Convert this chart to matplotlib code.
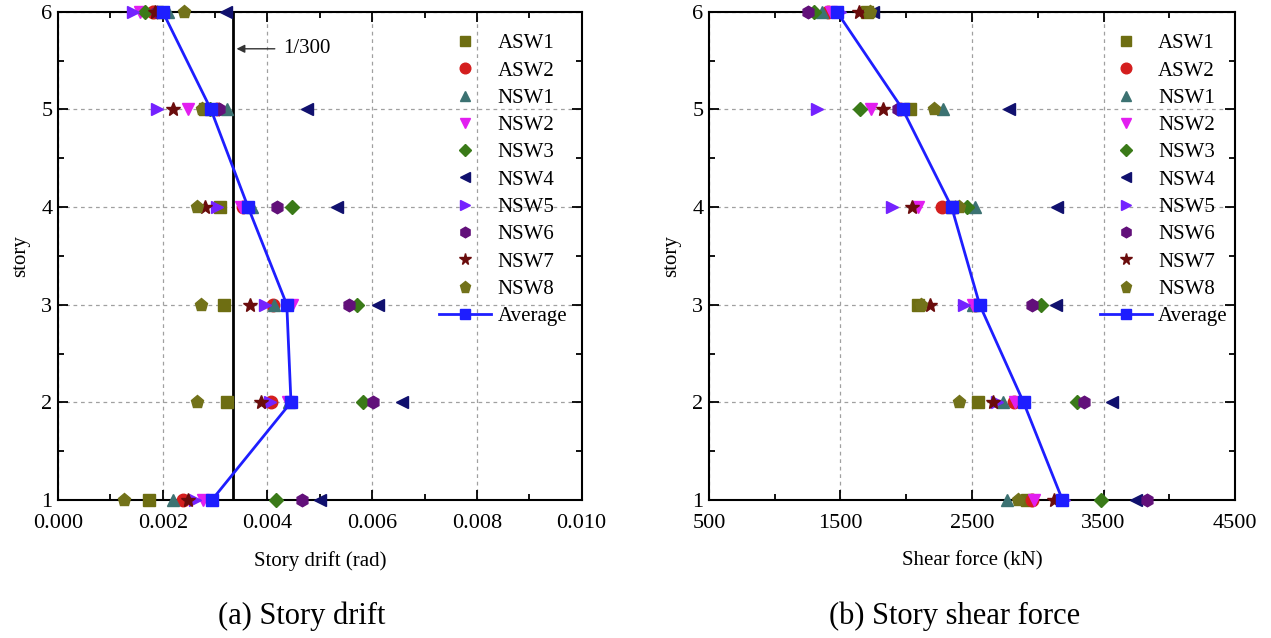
import matplotlib.pyplot as plt
import numpy as np
from matplotlib.ticker import MultipleLocator

plt.rcParams['font.family'] = ['Liberation Serif', 'DejaVu Serif']
plt.rcParams['mathtext.fontset'] = 'stix'

stories = [1, 2, 3, 4, 5, 6]
names = ['ASW1', 'ASW2', 'NSW1', 'NSW2', 'NSW3', 'NSW4', 'NSW5', 'NSW6', 'NSW7', 'NSW8']
markers = ['s', 'o', '^', 'v', 'D', '<', '>', 'h', '*', 'p']
msizes = [8.5, 9, 9, 9, 7, 9, 9, 9, 10, 9.5]
colors = ['#6e6e12', '#d41e1e', '#3c7272', '#e21ef0', '#3a7a18',
          '#10106e', '#7422ff', '#62107a', '#6a0c0c', '#72721a']

# story drift (rad), story 1..6
drift = {
    'ASW1': [0.00174, 0.00322, 0.00318, 0.00310, 0.00280, 0.00190],
    'ASW2': [0.00239, 0.00406, 0.00410, 0.00353, 0.00304, 0.00182],
    'NSW1': [0.00220, 0.00442, 0.00413, 0.00370, 0.00322, 0.00210],
    'NSW2': [0.00277, 0.00439, 0.00447, 0.00350, 0.00249, 0.00157],
    'NSW3': [0.00416, 0.00583, 0.00571, 0.00447, 0.00290, 0.00166],
    'NSW4': [0.00500, 0.00657, 0.00611, 0.00532, 0.00475, 0.00320],
    'NSW5': [0.00262, 0.00405, 0.00395, 0.00304, 0.00190, 0.00143],
    'NSW6': [0.00466, 0.00602, 0.00556, 0.00418, 0.00308, 0.00189],
    'NSW7': [0.00249, 0.00388, 0.00367, 0.00280, 0.00220, 0.00185],
    'NSW8': [0.00126, 0.00265, 0.00273, 0.00265, 0.00275, 0.00240],
}
drift_avg = [0.00294, 0.00445, 0.00437, 0.00363, 0.00292, 0.00200]

# story shear force (kN), story 1..6
shear = {
    'ASW1': [2922, 2543, 2087, 2350, 2026, 1700],
    'ASW2': [2960, 2823, 2520, 2269, 1950, 1404],
    'NSW1': [2763, 2732, 2504, 2520, 2277, 1358],
    'NSW2': [2975, 2830, 2510, 2087, 1730, 1426],
    'NSW3': [3484, 3302, 3028, 2459, 1647, 1297],
    'NSW4': [3750, 3568, 3142, 3150, 2785, 1745],
    'NSW5': [3200, 2687, 2436, 1889, 1320, 1495],
    'NSW6': [3833, 3355, 2953, 2368, 1935, 1252],
    'NSW7': [3120, 2656, 2178, 2041, 1821, 1639],
    'NSW8': [2846, 2398, 2110, 2400, 2208, 1722],
}
shear_avg = [3188, 2892, 2558, 2345, 1973, 1472]

limit_drift = 1 / 300

fig = plt.figure(figsize=(12.71, 6.38), dpi=100)
ax1 = fig.add_axes([0.0456, 0.2163, 0.4120, 0.7654])
ax2 = fig.add_axes([0.5578, 0.2163, 0.4139, 0.7654])


def draw(ax, data, avg):
    for n, m, s, c in zip(names, markers, msizes, colors):
        ax.plot(data[n], stories, linestyle='none', marker=m, color=c,
                ms=s, label=n, clip_on=False, zorder=3)
    ax.plot(avg, stories, '-s', color='#1e1eff', lw=2, ms=8.5,
            label='Average', clip_on=False, zorder=4)
    ax.set_ylim(1, 6)
    ax.yaxis.set_major_locator(MultipleLocator(1))
    ax.yaxis.set_minor_locator(MultipleLocator(0.5))
    ax.grid(True, which='major', linestyle=(0, (3, 3)), color='#a0a0a0', lw=0.9)
    ax.tick_params(which='both', direction='in', top=True, right=True,
                   labelsize=16, width=1.3)
    ax.tick_params(which='major', length=7)
    ax.tick_params(axis='x', which='major', pad=10)
    ax.tick_params(axis='y', which='major', pad=4)
    ax.tick_params(which='minor', length=4)
    for s in ax.spines.values():
        s.set_linewidth(1.5)
    ax.set_ylabel('story', fontsize=15, labelpad=8)


draw(ax1, drift, drift_avg)
ax1.set_xlim(0, 0.010)
ax1.xaxis.set_major_locator(MultipleLocator(0.002))
ax1.xaxis.set_minor_locator(MultipleLocator(0.001))
ax1.xaxis.set_major_formatter(plt.FuncFormatter(lambda v, p: f'{v:.3f}'))
ax1.axvline(limit_drift, color='black', lw=2, zorder=2)
ax1.annotate('1/300', xy=(0.00341, 5.62), xytext=(0.00430, 5.62),
             fontsize=15, va='center',
             arrowprops=dict(arrowstyle='-|>', color='#333333', lw=1,
                             mutation_scale=12, shrinkB=0, shrinkA=4))
ax1.set_xlabel('Story drift (rad)', fontsize=15, labelpad=13)

draw(ax2, shear, shear_avg)
ax2.set_xlim(500, 4500)
ax2.xaxis.set_major_locator(MultipleLocator(1000, offset=500))
ax2.xaxis.set_minor_locator(MultipleLocator(500))
ax2.set_xlabel('Shear force (kN)', fontsize=15, labelpad=13)

for ax, x0 in ((ax1, 0.728), (ax2, 0.743)):
    ax.legend(loc='upper left', bbox_to_anchor=(x0, 0.955), frameon=False,
              fontsize=15, borderpad=0, borderaxespad=0, handlelength=2.5,
              handletextpad=0.3, labelspacing=0.37, markerscale=0.85)

fig.text(0.2375, 0.022, '(a) Story drift', fontsize=22, ha='center')
fig.text(0.7514, 0.022, '(b) Story shear force', fontsize=22, ha='center')

fig.savefig('out.png', dpi=100)
